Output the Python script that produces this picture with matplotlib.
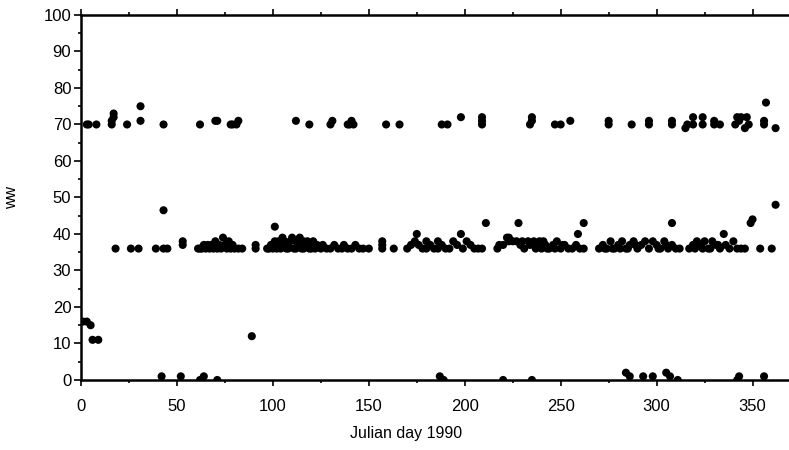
import numpy as np
import matplotlib
matplotlib.use("Agg")
import matplotlib.pyplot as plt
from matplotlib.ticker import MultipleLocator

plt.rcParams['font.family'] = ['Liberation Sans', 'DejaVu Sans']

# snow codes around 70
day_70 = [3, 4, 8, 16, 16, 17, 17, 24, 31, 31, 43, 62, 70, 71, 78, 79, 81, 82,
          112, 119, 130, 131, 139, 140, 141, 142, 159, 166, 188, 191, 198,
          209, 209, 209, 234, 235, 235, 247, 250, 255, 275, 275, 287, 296, 296,
          308, 308, 315, 316, 319, 319, 324, 324, 330, 330, 333, 341, 342, 343,
          344, 346, 347, 348, 356, 356, 357, 362]
ww_70 = [70, 70, 70, 70, 71, 72, 73, 70, 71, 75, 70, 70, 71, 71, 70, 70, 70, 71,
         71, 70, 70, 71, 70, 70, 71, 70, 70, 70, 70, 70, 72,
         70, 71, 72, 70, 71, 72, 70, 70, 71, 70, 71, 70, 70, 71,
         70, 71, 69, 70, 70, 72, 70, 72, 70, 71, 70, 70, 72, 71,
         72, 69, 72, 70, 70, 71, 76, 69]

# blowing snow band 36-39
day_36 = [18, 26, 30, 39, 43, 45, 53, 53,
          61, 62, 63, 64, 65, 66, 67, 68, 69, 70, 71, 72, 73, 74, 75, 76, 77,
          78, 79, 80, 82, 84, 91, 91,
          97, 98, 99, 100, 101, 102, 103, 104, 105, 106, 107, 108, 109, 110,
          111, 112, 113, 114, 115, 116, 117, 118, 119, 120, 121, 122, 123, 125,
          126, 128, 130, 132, 134, 136, 137, 139, 141, 143, 145, 147, 150,
          157, 157, 157, 163,
          170, 172, 174, 176, 178, 180, 182, 184, 186, 188, 190, 192, 194,
          196, 199, 201, 203, 205, 207, 209,
          217, 218, 220, 222, 223, 225, 227, 229, 230, 231, 233, 234, 236, 237,
          238, 239, 240, 241, 242, 244, 246, 248, 250, 252, 254, 256, 258, 260,
          262, 270, 272, 274, 276, 278, 280, 282, 284, 286, 288, 290, 292, 294,
          296, 298, 300, 302, 304, 306, 308, 310, 312,
          317, 319, 321, 323, 325, 327, 329, 331, 333, 336, 338, 340, 342, 344,
          346, 354, 360,
          104, 108, 112, 116, 120, 180, 186, 243, 247, 251, 273, 277, 281,
          285, 289, 301, 305, 320, 324, 328, 332]
ww_36 = [36, 36, 36, 36, 36, 36, 37, 38,
         36, 36, 36, 37, 36, 37, 36, 37, 36, 38, 36, 37, 36, 39, 37, 36, 38,
         36, 37, 36, 36, 36, 36, 37,
         36, 36, 37, 36, 38, 36, 38, 37, 39, 38, 36, 37, 38, 39,
         36, 38, 37, 39, 36, 38, 37, 38, 36, 37, 38, 36, 37, 36,
         37, 36, 36, 37, 36, 36, 37, 36, 36, 37, 36, 36, 36,
         38, 37, 36, 36,
         36, 37, 38, 37, 36, 38, 37, 36, 38, 37, 36, 36, 38,
         37, 36, 38, 37, 36, 36, 36,
         36, 37, 37, 39, 38, 38, 38, 37, 38, 36, 38, 37, 38, 36,
         37, 38, 36, 38, 37, 36, 37, 38, 36, 37, 36, 36, 37, 36,
         36, 36, 37, 36, 38, 36, 37, 38, 36, 37, 38, 36, 37, 38,
         36, 38, 37, 36, 38, 36, 37, 36, 36,
         36, 37, 38, 37, 38, 36, 38, 37, 36, 37, 36, 38, 36, 36,
         36, 36, 36,
         36, 36, 36, 36, 36, 36, 36, 36, 36, 37, 36, 36, 36,
         36, 37, 36, 37, 36, 36, 36, 37]

# remaining observations
day_other = [1, 3, 5, 6, 9, 89, 101, 43,
             175, 198, 223, 259, 335,
             211, 228, 262, 308, 349, 350, 362,
             42, 52, 62, 64, 71, 187, 189, 220, 235, 284, 286, 293, 298,
             305, 307, 311, 342, 343, 356]
ww_other = [16, 16, 15, 11, 11, 12, 42, 46.5,
            40, 40, 39, 40, 40,
            43, 43, 43, 43, 43, 44, 48,
            1, 1, 0, 1, 0, 1, 0, 0, 0, 2, 1, 1, 1,
            2, 1, 0, 0, 1, 1]

days = day_70 + day_36 + day_other
ww = ww_70 + ww_36 + ww_other

fig = plt.figure(figsize=(7.89, 4.5), dpi=100)
ax = fig.add_axes([0.1027, 0.1556, 0.8973, 0.8111])
ax.scatter(days, ww, s=34, c='black', edgecolors='none', zorder=3)

ax.set_xlim(0, 369)
ax.set_ylim(0, 100)

ax.xaxis.set_major_locator(MultipleLocator(50))
ax.xaxis.set_minor_locator(MultipleLocator(25))
ax.yaxis.set_major_locator(MultipleLocator(10))
ax.yaxis.set_minor_locator(MultipleLocator(5))

ax.spines['right'].set_visible(False)
for s in ['left', 'bottom', 'top']:
    ax.spines[s].set_linewidth(1.8)

ax.tick_params(axis='x', which='major', direction='out', length=4, width=1.2,
               top=True, labelsize=12, pad=10)
ax.tick_params(axis='x', which='minor', direction='out', length=2, width=1.2, top=True)
ax.tick_params(axis='y', which='major', direction='out', length=5, width=1.2,
               labelsize=12, pad=2)
ax.tick_params(axis='y', which='minor', direction='out', length=2, width=1.2)

ax.set_xlabel('Julian day 1990', fontsize=11.5)
ax.xaxis.set_label_coords(0.459, -0.125)
ax.set_ylabel('ww', fontsize=11.5)
ax.yaxis.set_label_coords(-0.088, 0.5)

fig.savefig('out.png', dpi=100)
